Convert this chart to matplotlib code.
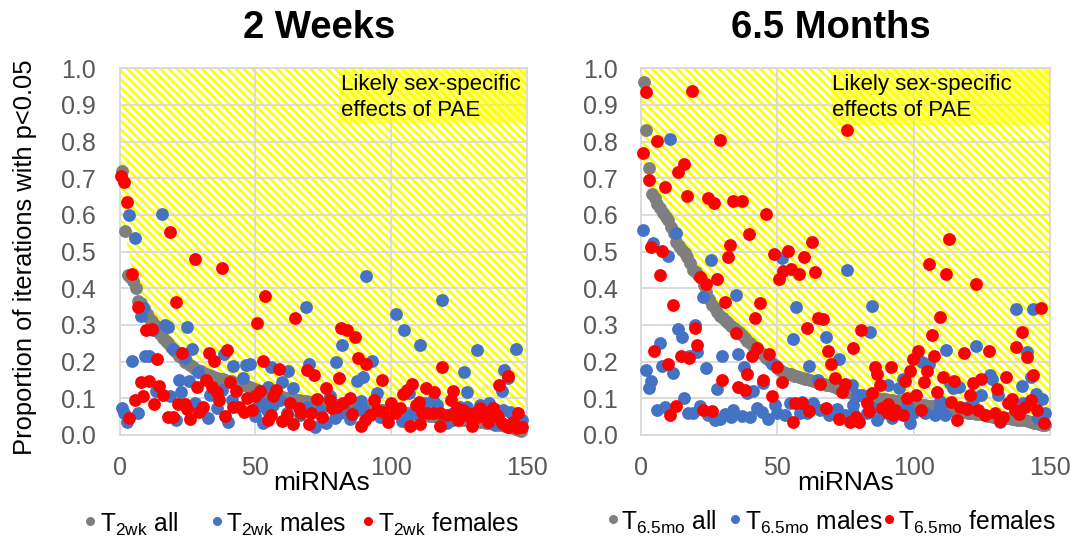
import numpy as np
from matplotlib import pyplot as plt
from matplotlib.lines import Line2D
from matplotlib.patches import Polygon, Rectangle

plt.rcParams['font.family'] = ['Liberation Sans', 'DejaVu Sans']
plt.rcParams['mathtext.fontset'] = 'custom'
plt.rcParams['mathtext.rm'] = 'Liberation Sans'
plt.rcParams['hatch.linewidth'] = 1.9

GRAY = '#7F7F7F'
BLUE = '#4472C4'
RED = '#FF0000'
GRID = '#D9D9D9'
TICK = '#595959'

# 2 weeks
all_2wk = [.72,.555,.435,.43,.42,.40,.365,.36,.345,.33,.32,.31,.30,.29,.275,.265,.255,.25,.24,.232,.225,.215,.21,.20,.195,
           .19,.185,.18,.178,.175,.17,.165,.163,.16,.158,.155,.153,.152,.15,.148,.146,.145,.143,.14,.138,.135,.133,.13,.128,.125,
           .122,.12,.118,.115,.112,.11,.108,.107,.105,.104,.102,.10,.098,.097,.096,.095,.094,.093,.092,.091,.09,.089,.088,.087,.086,
           .085,.085,.084,.083,.082,.081,.08,.08,.079,.078,.077,.076,.075,.075,.074,.073,.072,.071,.07,.07,.069,.068,.067,.066,.065,
           .065,.064,.063,.062,.061,.06,.06,.059,.058,.057,.056,.055,.054,.053,.052,.051,.05,.05,.049,.048,.047,.046,.045,.044,.043,
           .042,.041,.04,.04,.039,.038,.037,.036,.035,.034,.033,.032,.03,.029,.028,.027,.025,.023,.021,.019,.017,.014,.01]

males_2wk_x = [3.6,15.8,5.7,90.9,68.9,119,101.8,104.9,110.8,131.9,146,81.9,8.8,7.8,16.8,17.8,24.8,12.5,19.8,26.8,24.1,9.4,10.9,4.7,
               38.6,41.7,46.6,48.1,55.8,62,59.8,69.8,79.8,93.2,126.9,141.8,143,140.9,128,89.9,87.7,63.8,54.9,45.7,28.8,21.9,25.7,22.7,
               13.4,18.6,94.8,106.8,.8,1.8,2.7,6.9,20.8,27.8,32.7,35.8,39.9,41.3,37.7,33.4,49.9,53,52.8,56.7,59,66.5,72,76,77.6,79.4,
               85,83,89,89.9,96,104,107,110.8,115.7,116.9,112.6,120.6,123,132.9,136,138.4,143.9,148.2,141.5,125.5,130.4,135.3,
               50.5,54.2,61.6,69,74,81.3,87.4,119.3,123,128,134,139,146.4]
males_2wk_y = [.601,.604,.537,.434,.35,.369,.329,.285,.245,.232,.235,.245,.345,.325,.3,.294,.294,.285,.235,.235,.209,.215,.216,.202,
               .22,.189,.19,.194,.185,.175,.145,.193,.2,.203,.172,.177,.155,.121,.117,.157,.148,.127,.132,.156,.171,.15,.148,.116,
               .12,.106,.114,.114,.073,.059,.035,.059,.042,.086,.045,.073,.036,.095,.123,.109,.052,.086,.032,.082,.095,.055,.023,.034,.105,.045,
               .044,.068,.094,.068,.05,.038,.055,.05,.095,.082,.086,.032,.041,.082,.088,.027,.064,.041,.068,.077,.059,.05,
               .077,.068,.059,.077,.068,.059,.068,.05,.059,.077,.059,.068,.059]

females_2wk_x = [.6,1.7,2.6,18.6,27.8,37.9,4.7,20.8,6.9,9.8,11.9,53.7,50.8,64.8,81.6,84,86.8,22.9,13.7,32.9,34.8,39.7,52.8,58.8,69,71.8,
                 87.8,90.8,80.9,96.7,119,143,139.9,7.8,10.9,14.7,16.2,5.7,8.8,12.7,3.6,17.8,19.9,21.7,24.1,25,26,29.4,30.9,28.7,31.8,34,36,
                 36.8,40.7,42.8,38.9,42,44,45.9,46.9,48.7,50,51.8,56.7,57.7,54.9,55.8,59.8,61.6,63.8,62.8,66.2,66.9,70.6,74.5,69.8,72.7,76,
                 77.6,78.2,80,82.5,85,85.8,88.9,90.5,92.3,93.8,94.8,97.2,98.9,100,101.5,103.4,104.4,105.8,107.9,109.3,110.2,107,110.7,
                 112.8,115.9,111.4,113.8,115.7,118,120.6,118,122,122.8,124.3,126.1,128,129.8,131.7,132.9,135.9,137.8,139.6,140.8,143.3,145.1,147,146.4,148.2,
                 123.6,124.8,126.7,129.2,131,134,135.3,139,142,144.6]
females_2wk_y = [.706,.69,.635,.553,.48,.456,.44,.364,.35,.286,.288,.379,.305,.318,.293,.285,.268,.223,.207,.223,.203,.232,.203,.18,.177,.164,
                 .211,.193,.156,.149,.185,.161,.135,.144,.147,.134,.109,.095,.106,.085,.046,.049,.049,.085,.085,.07,.044,.063,.075,.132,.15,.132,.118,
                 .095,.144,.12,.051,.075,.077,.064,.1,.068,.105,.121,.106,.123,.041,.055,.038,.055,.03,.086,.073,.059,.061,.05,.029,.097,.127,
                 .095,.073,.077,.086,.102,.056,.025,.041,.055,.095,.068,.064,.035,.088,.059,.073,.112,.123,.139,.082,.089,.025,.029,
                 .129,.118,.064,.061,.059,.061,.055,.025,.095,.121,.073,.059,.059,.025,.05,.073,.036,.073,.05,.032,.021,.036,.061,.018,.021,
                 .055,.041,.068,.05,.059,.064,.05,.055,.027,.032]

# 6.5 months
all_65mo = [.964,.833,.727,.657,.645,.63,.62,.605,.595,.585,.568,.55,.527,.515,.505,.495,.486,.47,.45,.445,.435,.427,.41,.39,.37,
            .355,.345,.335,.325,.318,.31,.305,.298,.292,.286,.28,.272,.265,.255,.25,.243,.237,.23,.224,.218,.21,.204,.197,.19,.182,
            .177,.173,.17,.167,.165,.162,.16,.158,.156,.154,.152,.15,.148,.146,.143,.141,.139,.137,.135,.133,.13,.128,.126,.122,.118,
            .116,.114,.112,.11,.108,.107,.105,.104,.103,.102,.101,.1,.099,.098,.097,.096,.095,.094,.093,.092,.091,.09,.089,.088,.086,
            .085,.083,.082,.081,.08,.079,.078,.076,.075,.074,.073,.071,.07,.068,.066,.065,.064,.063,.062,.061,.06,.059,.058,.057,.056,
            .055,.052,.051,.05,.049,.048,.047,.046,.045,.045,.044,.043,.042,.042,.041,.04,.038,.036,.034,.032,.03,.028,.027]

males_65mo_x = [10.6,.7,12.7,4.5,9.8,25.8,51.8,75.7,22.9,34.7,56.7,84.8,137.7,143.9,19.8,13.7,14.9,6.8,20.7,17.6,29.8,35.7,55.7,67.7,84,
                111.9,122.9,141.7,72.7,61.7,7.6,1.8,11.6,23.7,37.8,3.7,2.8,27.8,38.8,41,44.9,15.8,47.9,64.8,77.3,90.7,94.7,96,103,105.7,
                128,128.6,142.9,139.9,113.3,116.8,114.5,124.6,130.8,144.7,147,140.2,77.9,79.1,80.9,109.7,5.7,8.8,17.1,19.2,21.6,24.7,27.1,29,
                30.8,32.9,33.9,36.9,40,42.4,44.3,46.7,49.1,49.8,52.8,54.6,58.9,58.3,61,63,65.6,68.9,71.8,74.8,82.8,86.7,91.9,98.7,99.9,104.2,
                107.8,111.5,109.7,131.7,145.7,148.2,120,121.9,77.9,85.2,88.9,95,97.4]
males_65mo_y = [.808,.559,.552,.523,.489,.477,.482,.45,.375,.381,.348,.353,.343,.344,.3,.289,.268,.252,.225,.216,.215,.222,.262,.268,.281,
                .233,.242,.227,.207,.188,.189,.177,.168,.184,.186,.148,.129,.125,.115,.12,.141,.1,.194,.15,.136,.136,.129,.152,.2,.193,
                .164,.153,.159,.134,.141,.13,.127,.109,.109,.112,.097,.086,.082,.109,.109,.094,.068,.077,.059,.061,.079,.055,.041,.044,
                .057,.05,.068,.052,.05,.073,.064,.044,.082,.059,.055,.086,.091,.059,.059,.086,.068,.055,.07,.055,.059,.041,.045,.032,.059,.059,
                .055,.055,.077,.036,.045,.059,.077,.095,.059,.073,.059,.064,.082]

females_65mo_x = [1.7,18.7,75.7,5.9,28.9,.9,15.9,13.7,2.8,8.8,16.9,24.7,26.9,33.9,37,45.7,39.7,32.6,62.8,112.8,3.7,7.8,48.8,53.8,59.8,31.8,6.8,
                  105.7,111.7,122.9,50.7,52.2,54.9,57.8,63.8,21.6,23.7,27.8,30.8,43.8,11.7,41.7,64.8,66.6,109.7,60.9,80.7,34.7,139.7,106.6,19.8,20.7,
                  4.8,14.8,17.7,9.8,42.7,40.8,46.8,68.7,77.6,101.7,99.6,107.6,118.6,127.6,137.7,141.7,146.7,69.7,49.8,85.7,86.7,91.8,98.7,104.8,38.8,
                  29.8,44.6,51.7,65.6,71.1,74.8,73.6,87.7,96.8,103.8,110.9,114.8,121.9,124.7,133.7,143.6,130.7,35.5,38.1,47.9,84.8,97.7,100.9,108.7,
                  120.7,113.7,135.9,134.7,142.9,82.8,12.8,10.6,22.6,25.9,56.5,58.9,61.7,67.7,55.7,72.7,76.6,78.8,79.8,83.6,88.3,90.7,90.1,93.2,92.5,96,
                  102.7,115.8,117,119.4,123.7,126.2,129.8,131.7,132.9,137.2,138.6,140.8,145.4,147.7]
females_65mo_y = [.935,.938,.833,.801,.805,.768,.738,.717,.695,.675,.652,.646,.633,.639,.639,.604,.547,.518,.527,.534,.512,.502,.494,.502,.485,.485,.435,
                  .467,.438,.412,.425,.448,.453,.438,.445,.43,.411,.425,.364,.361,.355,.319,.319,.315,.321,.291,.286,.279,.281,.273,.291,.245,
                  .229,.215,.211,.193,.236,.215,.222,.23,.236,.23,.206,.215,.224,.229,.239,.214,.347,.193,.185,.185,.165,.185,.175,.175,.165,
                  .15,.15,.144,.138,.155,.139,.118,.136,.148,.145,.157,.148,.143,.152,.157,.163,.125,.13,.124,.105,.114,.102,.108,.116,
                  .109,.091,.097,.086,.095,.086,.079,.055,.068,.065,.086,.086,.066,.073,.036,.043,.035,.05,.035,.065,.073,.084,.064,.068,.055,.055,
                  .068,.041,.077,.071,.068,.055,.059,.038,.05,.068,.057,.077,.068,.032]

# edge of the hatched zone
zone_2wk_x = [0,0,3.3,5,7.5,11,16,25,34.6,49,66,84,150,150]
zone_2wk_y = [1,.6,.505,.44,.377,.32,.264,.2,.164,.14,.105,.095,.075,1]
zone_65mo_x = [0,0,4.5,7,13,16.7,22,29,39,46,51,65.6,82.8,108,150,150]
zone_65mo_y = [1,.77,.65,.6,.52,.486,.427,.33,.27,.214,.18,.15,.109,.086,.05,1]

xticks = [0,50,100,150]
yticks = [0,.1,.2,.3,.4,.5,.6,.7,.8,.9,1]

W, H = 1085, 541
fig = plt.figure(figsize=(W/100, H/100), dpi=100)


def panel(left, width, title, title_x, label_x, a, mx, my, fx, fy, zx, zy, box_x, box_y, note_x):
    ax = fig.add_axes([left/W, (H-435)/H, width/W, 366.7/H])
    ax.set_xlim(0,150)
    ax.set_ylim(0,1)
    ax.set_xticks(xticks)
    ax.set_yticks(yticks)
    ax.set_yticklabels(['%.1f' % v for v in yticks])
    ax.tick_params(length=0, labelsize=18, labelcolor=TICK)
    ax.tick_params(axis='x', pad=15)
    ax.tick_params(axis='y', pad=17)
    ax.grid(color=GRID, lw=1.3)
    ax.set_axisbelow(True)
    for s in ax.spines.values():
        s.set_color(GRID)
        s.set_linewidth(1.3)
    ax.add_patch(Polygon(list(zip(zx,zy)), closed=True, fill=False, hatch='\\\\\\\\', edgecolor='#FFFF00', lw=0, zorder=.4))
    ax.add_patch(Rectangle((box_x,box_y), 150-box_x, 1-box_y, facecolor='#FFFF00', alpha=.55, lw=0, zorder=1))
    ax.scatter(np.arange(1,len(a)+1), a, s=85, color=GRAY, linewidths=0, clip_on=False, zorder=3)
    ax.scatter(mx, my, s=85, color=BLUE, linewidths=0, clip_on=False, zorder=4)
    ax.scatter(fx, fy, s=85, color=RED, linewidths=0, clip_on=False, zorder=5)
    ax.text(note_x, .955, 'Likely sex-specific', fontsize=16, color='black', va='center', zorder=6)
    ax.text(note_x, .885, 'effects of PAE', fontsize=16, color='black', va='center', zorder=6)
    fig.text(title_x/W, 1-28/H, title, fontsize=27.5, fontweight='bold', ha='center', va='center')
    fig.text(label_x/W, 1-483/H, 'miRNAs', fontsize=19, ha='center', va='center')
    return ax


panel(119.5, 407, '2 Weeks', 319, 322, all_2wk, males_2wk_x, males_2wk_y, females_2wk_x, females_2wk_y,
      zone_2wk_x, zone_2wk_y, 81, .85, 81.5)
panel(641, 409, '6.5 Months', 831, 846, all_65mo, males_65mo_x, males_65mo_y, females_65mo_x, females_65mo_y,
      zone_65mo_x, zone_65mo_y, 69.7, .845, 70.2)

fig.text(25/W, 1-257/H, 'Proportion of iterations with p<0.05', fontsize=18.4, rotation=90, ha='center', va='center')

legend_2wk = [(90,100,GRAY,r'T$_{\mathrm{2wk}}$ all'), (217,226,BLUE,r'T$_{\mathrm{2wk}}$ males'), (368,378,RED,r'T$_{\mathrm{2wk}}$ females')]
legend_65mo = [(613,621,GRAY,r'T$_{\mathrm{6.5mo}}$ all'), (735,745,BLUE,r'T$_{\mathrm{6.5mo}}$ males'), (889,898,RED,r'T$_{\mathrm{6.5mo}}$ females')]
for entries, marker_y, base_y in [(legend_2wk,521,532), (legend_65mo,519,530)]:
    for mx_px, tx_px, col, lab in entries:
        fig.add_artist(Line2D([mx_px/W], [1-marker_y/H], marker='o', ms=6.5, color=col, mew=0, ls='none', transform=fig.transFigure))
        fig.text(tx_px/W, 1-base_y/H, lab, fontsize=17.7, ha='left', va='baseline')

fig.savefig('out.png', dpi=100)
